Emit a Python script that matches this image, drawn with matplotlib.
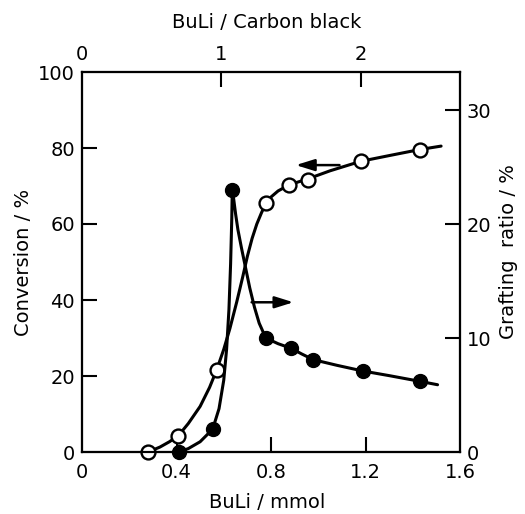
import matplotlib
matplotlib.use("Agg")
import matplotlib.pyplot as plt
import numpy as np

# ── Data ───────────────────────────────────────────────────────────────
# measured points
conv_x = [0.28, 0.408, 0.57, 0.78, 0.877, 0.957, 1.18, 1.43]
conv_y = [0.0, 4.2, 21.6, 65.6, 70.3, 71.5, 76.5, 79.5]

graft_x = [0.41, 0.553, 0.636, 0.778, 0.885, 0.979, 1.19, 1.43]
graft_y = [0.0, 2.0, 23.0, 10.0, 9.1, 8.1, 7.1, 6.2]

# hand-drawn guide curves
conv_curve_x = [0.28, 0.33, 0.37, 0.408, 0.45, 0.50, 0.54, 0.57, 0.60, 0.626,
                0.655, 0.68, 0.70, 0.72, 0.74, 0.76, 0.78, 0.80, 0.83, 0.877,
                0.957, 1.05, 1.18, 1.30, 1.43, 1.52]
conv_curve_y = [0.0, 1.3, 2.7, 4.3, 7.5, 12.0, 17.0, 21.6, 27.0, 32.5,
                39.5, 46.0, 51.5, 56.2, 60.0, 63.0, 65.6, 67.1, 68.7, 70.3,
                71.9, 74.0, 76.5, 78.0, 79.6, 80.5]

graft_curve_x = [0.41, 0.45, 0.50, 0.553, 0.58, 0.60, 0.612, 0.622, 0.629, 0.634, 0.636,
                 0.642, 0.65, 0.66, 0.675, 0.69, 0.71, 0.73, 0.75, 0.778, 0.83, 0.885,
                 0.93, 0.979, 1.08, 1.19, 1.30, 1.43, 1.505]
graft_curve_y = [0.0, 0.3, 0.9, 2.0, 3.8, 6.3, 9.0, 12.5, 16.5, 20.5, 23.0,
                 22.2, 20.9, 19.5, 17.9, 16.4, 14.4, 12.7, 11.3, 10.0, 9.5, 9.1,
                 8.6, 8.1, 7.6, 7.1, 6.7, 6.2, 5.9]

# axis ticks
x_ticks = [0, 0.4, 0.8, 1.2, 1.6]
x_ticklabels = ["0", "0.4", "0.8", "1.2", "1.6"]
conv_ticks = [0, 20, 40, 60, 80, 100]
graft_ticks = [0, 10, 20, 30]
top_ticks = [0, 1, 2]
mmol_per_ratio = 0.59   # BuLi/mmol that corresponds to BuLi/Carbon black = 1

# ── Figure ─────────────────────────────────────────────────────────────
fig = plt.figure(figsize=(5.25, 5.14), dpi=100)
ax = fig.add_axes([82 / 525, 1 - 452 / 514, 378 / 525, 380 / 514])
ax2 = ax.twinx()
ax3 = ax.twiny()

lw_ax = 1.5
FS = 14

# conversion (left axis) – open circles
ax.plot(conv_curve_x, conv_curve_y, color="black", lw=2.2, zorder=2,
        solid_capstyle="round", solid_joinstyle="round")
ax.plot(conv_x, conv_y, "o", ms=10, mfc="white", mec="black", mew=1.7, zorder=4,
        clip_on=False)

# grafting ratio (right axis) – filled circles
ax2.plot(graft_curve_x, graft_curve_y, color="black", lw=2.2, zorder=2,
         solid_capstyle="round", solid_joinstyle="round")
ax2.plot(graft_x, graft_y, "o", ms=10, mfc="black", mec="black", mew=1.0, zorder=4,
         clip_on=False)

# arrows pointing to the relevant axis
ax.annotate("", xy=(0.905, 75.5), xytext=(1.09, 75.5),
            arrowprops=dict(arrowstyle="-|>,head_length=0.8,head_width=0.25",
                            color="black", lw=1.8, mutation_scale=14,
                            shrinkA=0, shrinkB=0))
ax.annotate("", xy=(0.895, 39.4), xytext=(0.718, 39.4),
            arrowprops=dict(arrowstyle="-|>,head_length=0.8,head_width=0.25",
                            color="black", lw=1.8, mutation_scale=14,
                            shrinkA=0, shrinkB=0))

# ── Axes ───────────────────────────────────────────────────────────────
ax.set_xlim(0, 1.6)
ax.set_ylim(0, 100)
ax2.set_ylim(0, 100 / 3)
ax3.set_xlim(0, 1.6 / mmol_per_ratio)

ax.set_xticks(x_ticks)
ax.set_xticklabels(x_ticklabels, fontsize=FS)
ax.set_yticks(conv_ticks)
ax.set_yticklabels([str(t) for t in conv_ticks], fontsize=FS)
ax2.set_yticks(graft_ticks)
ax2.set_yticklabels([str(t) for t in graft_ticks], fontsize=FS)
ax3.set_xticks(top_ticks)
ax3.set_xticklabels([str(t) for t in top_ticks], fontsize=FS)

for a in (ax, ax2, ax3):
    for s in a.spines.values():
        s.set_linewidth(lw_ax)
    a.tick_params(direction="in", length=11, width=lw_ax, pad=5)
ax.tick_params(axis="x", pad=8)
ax3.tick_params(axis="x", pad=6)

# hide tick marks sitting on the corners
for t in ax.xaxis.get_major_ticks():
    if t.get_loc() in (0, 1.6):
        t.tick1line.set_visible(False)
for t in ax.yaxis.get_major_ticks():
    if t.get_loc() in (0, 100):
        t.tick1line.set_visible(False)
for t in ax2.yaxis.get_major_ticks():
    if t.get_loc() == 0:
        t.tick2line.set_visible(False)
for t in ax3.xaxis.get_major_ticks():
    if t.get_loc() == 0:
        t.tick2line.set_visible(False)

# axis titles
fig.text(267 / 525, 1 - 503 / 514, "BuLi / mmol", fontsize=FS, ha="center", va="center")
fig.text(267 / 525, 1 - 23 / 514, "BuLi / Carbon black", fontsize=FS, ha="center", va="center")
fig.text(24 / 525, 1 - 262 / 514, "Conversion / %", fontsize=FS, rotation=90,
         ha="center", va="center")
fig.text(509 / 525, 1 - 252 / 514, "Grafting  ratio / %", fontsize=FS, rotation=90,
         ha="center", va="center")

fig.savefig("out.png", dpi=100, facecolor="white")
